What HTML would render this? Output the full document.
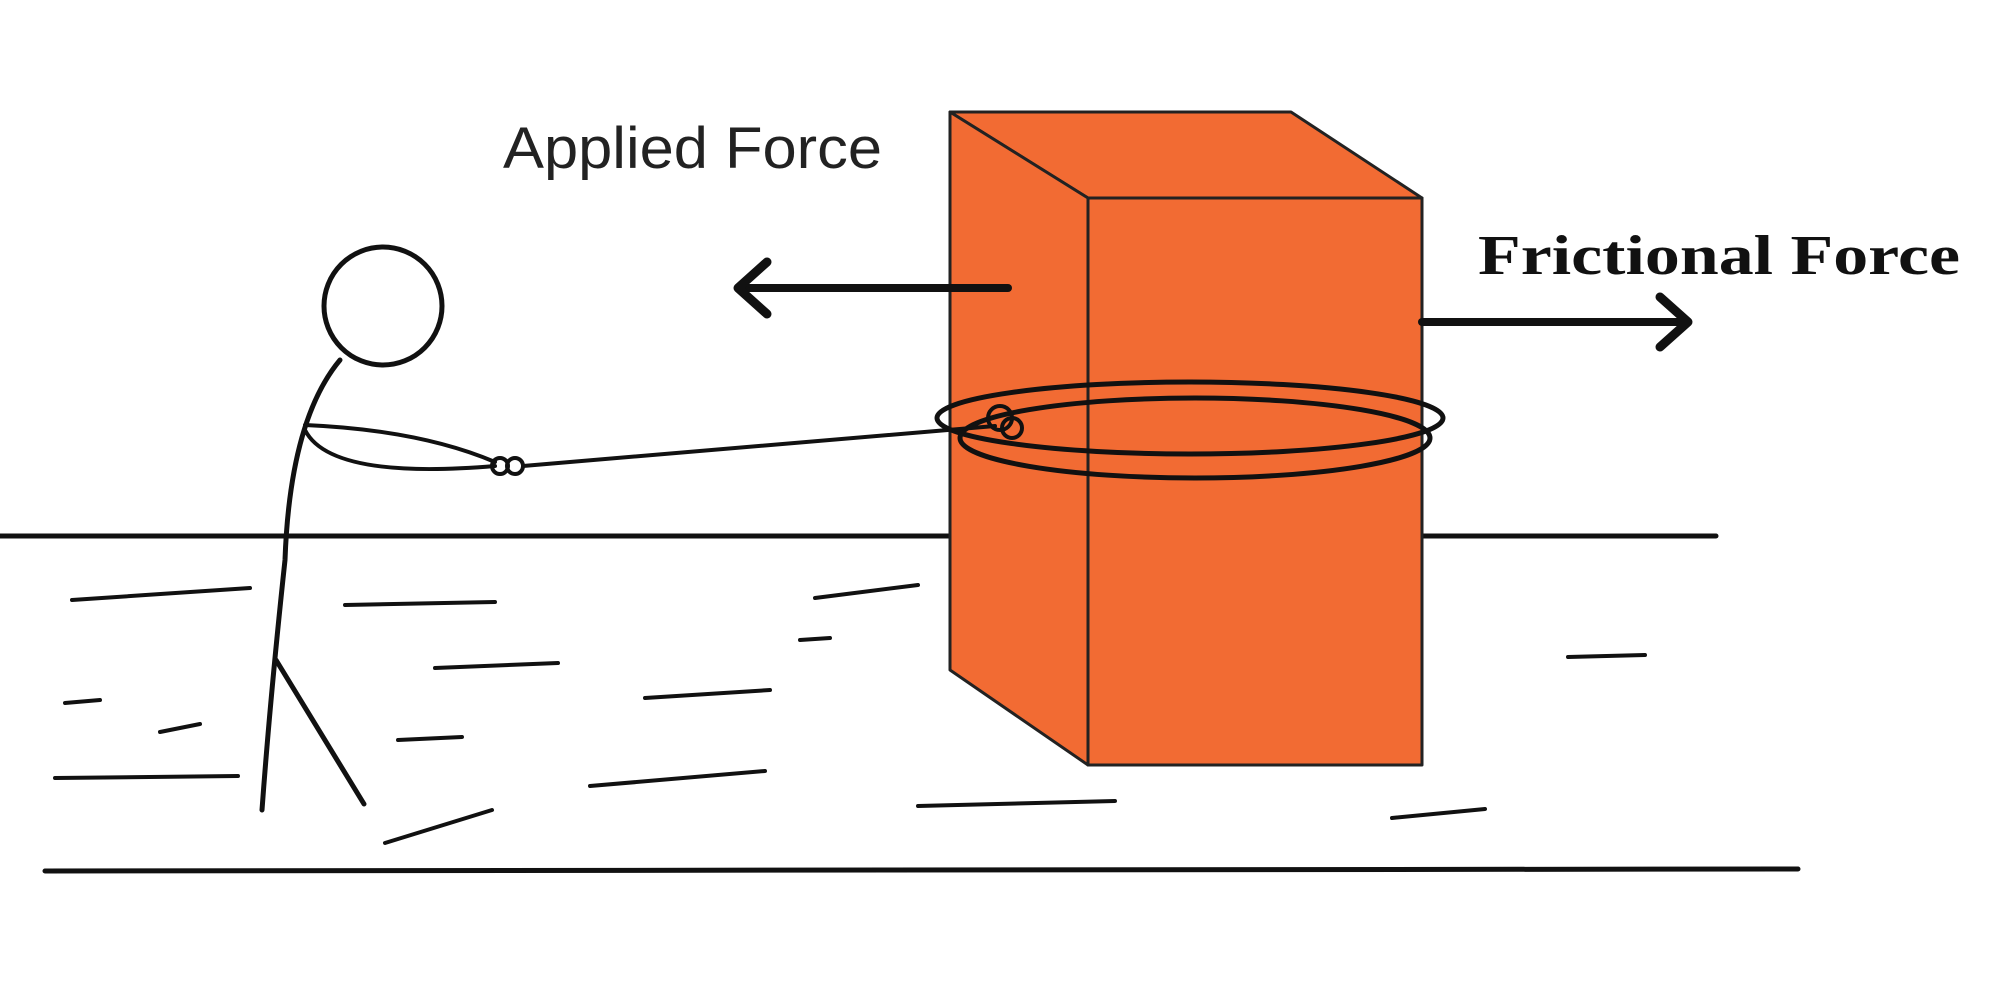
<!DOCTYPE html>
<html><head><meta charset="utf-8"><style>
html,body{margin:0;padding:0;background:#fff;width:2000px;height:1000px;overflow:hidden}
</style></head><body>
<svg width="2000" height="1000" viewBox="0 0 2000 1000" xmlns="http://www.w3.org/2000/svg">
<g stroke="#111" stroke-linecap="round" fill="none">
<line x1="0" y1="536" x2="1716" y2="536" stroke-width="5"/>
<line x1="45" y1="871" x2="1798" y2="869" stroke-width="5"/>
<g stroke-width="4">
<path d="M72 600 L250 588"/><path d="M345 605 L495 602"/><path d="M815 598 L918 585"/>
<path d="M435 668 L558 663"/><path d="M645 698 L770 690"/><path d="M800 640 L830 638"/>
<path d="M65 703 L100 700"/><path d="M160 732 L200 724"/><path d="M398 740 L462 737"/>
<path d="M55 778 L238 776"/><path d="M590 786 L765 771"/><path d="M385 843 L492 810"/>
<path d="M918 806 L1115 801"/><path d="M1392 818 L1485 809"/><path d="M1568 657 L1645 655"/>
</g>
</g>
<g stroke="#222" stroke-width="3" stroke-linejoin="round">
<polygon points="950,112 1291,112 1422,198 1088,198" fill="#f26b33"/>
<polygon points="950,112 1088,198 1088,765 950,670" fill="#f26b33"/>
<polygon points="1088,198 1422,198 1422,765 1088,765" fill="#f26b33"/>
</g>
<g stroke="#111" fill="none" stroke-linecap="round">
<ellipse cx="1190" cy="418" rx="253" ry="36" stroke-width="5"/>
<ellipse cx="1195" cy="438" rx="235" ry="40" stroke-width="5"/>
<circle cx="1000" cy="418" r="12" stroke-width="4"/><circle cx="1012" cy="428" r="10" stroke-width="4"/>
<path d="M523 466 L995 426" stroke-width="4"/>
<circle cx="383" cy="306" r="59" stroke-width="5"/>
<path d="M340 360 Q290 420 285 560 Q270 700 262 810" stroke-width="5"/>
<path d="M276 660 L364 804" stroke-width="5"/>
<path d="M305 425 Q420 430 495 462" stroke-width="4"/>
<path d="M305 430 Q330 480 495 466" stroke-width="4"/>
<circle cx="500" cy="466" r="8" stroke-width="4"/><circle cx="515" cy="466" r="8" stroke-width="4"/>
<line x1="1008" y1="288" x2="745" y2="288" stroke-width="8"/>
<path d="M767 262 L738 288 L767 314" stroke-width="9" stroke-linejoin="round"/>
<line x1="1422" y1="322" x2="1678" y2="322" stroke-width="8"/>
<path d="M1660 297 L1688 322 L1660 347" stroke-width="9" stroke-linejoin="round"/>
</g>
<text x="503" y="168" font-family="Liberation Sans, sans-serif" font-size="58" fill="#222" textLength="379" lengthAdjust="spacingAndGlyphs">Applied Force</text>
<text x="1478" y="274" font-family="Liberation Serif, serif" font-weight="bold" font-size="56" fill="#111" textLength="482" lengthAdjust="spacingAndGlyphs">Frictional Force</text>
</svg>
</body></html>
